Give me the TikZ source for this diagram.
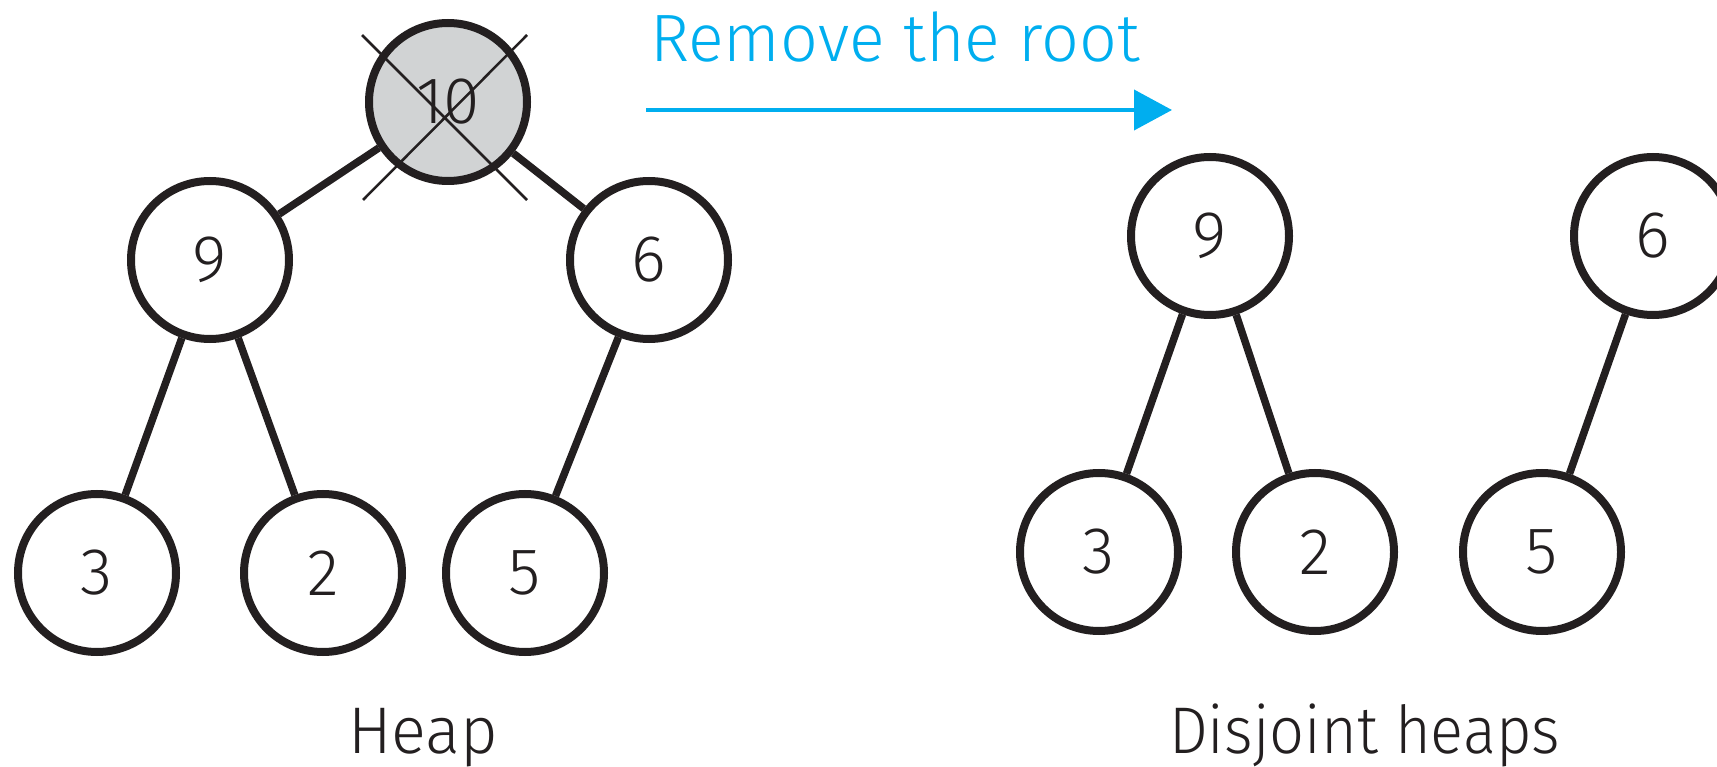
\documentclass[tikz,border=0pt]{standalone}
\usepackage{fontspec}
\setmainfont{Fira Sans}[UprightFont=* Light]
\usetikzlibrary{arrows.meta,calc}
\definecolor{ink}{HTML}{231F20}
\definecolor{rootgray}{HTML}{D1D3D4}
\definecolor{stepcyan}{HTML}{00AEEF}

\begin{document}
\begin{tikzpicture}[x=1pt,y=-1pt,
  heapnode/.style={circle, draw=ink, line width=8pt, minimum size=158pt,
    inner sep=0pt, text=ink, font=\fontsize{66}{66}\selectfont},
  rootnode/.style={heapnode, fill=rootgray},
  treeedge/.style={draw=ink, line width=7.5pt},
  crossline/.style={draw=ink, line width=2.5pt},
  caption/.style={anchor=base west, inner sep=0pt, text=ink},
  stepline/.style={draw=stepcyan, line width=4pt,
    -{Triangle[length=38pt,width=40pt]}}
]
\useasboundingbox (0,0) rectangle (1717,767);

% heap before removal
\node[rootnode] (root) at (448,102) {10};
\node[heapnode] (l9) at (210,260) {9};
\node[heapnode] (l6) at (649,260) {6};
\node[heapnode] (l3) at (97,573) {3};
\node[heapnode] (l2) at (323,573) {2};
\node[heapnode] (l5) at (525,573) {5};

\draw[treeedge] (root) -- (l9);
\draw[treeedge] (root) -- (l6);
\draw[treeedge] (l9) -- (l3);
\draw[treeedge] (l9) -- (l2);
\draw[treeedge] (l6) -- (l5);

% cross over the removed root
\draw[crossline] ($(root)+(-86,-67)$) -- ($(root)+(79,98)$);
\draw[crossline] ($(root)+(79,-67)$) -- ($(root)+(-85,98)$);

% disjoint heaps after removal
\node[heapnode] (r9) at (1210,236) {9};
\node[heapnode] (r6) at (1653,236) {6};
\node[heapnode] (r3) at (1099,552) {3};
\node[heapnode] (r2) at (1315,552) {2};
\node[heapnode] (r5) at (1542,552) {5};

\draw[treeedge] (r9) -- (r3);
\draw[treeedge] (r9) -- (r2);
\draw[treeedge] (r6) -- (r5);

% step arrow and labels
\coordinate (arrowstart) at (646,110);
\coordinate (arrowend) at (1172,110);
\draw[stepline] (arrowstart) -- (arrowend);
\node[caption, text=stepcyan] (steplabel) at (650,62)
  {\resizebox{490pt}{\height}{\fontsize{67}{67}\selectfont Remove the root}};

\node[caption] (heaplabel) at (348,753)
  {\resizebox{150pt}{\height}{\fontsize{66}{66}\selectfont Heap}};
\node[caption] (disjointlabel) at (1169,753)
  {\resizebox{391pt}{\height}{\fontsize{66}{66}\selectfont Disjoint heaps}};
\end{tikzpicture}
\end{document}
